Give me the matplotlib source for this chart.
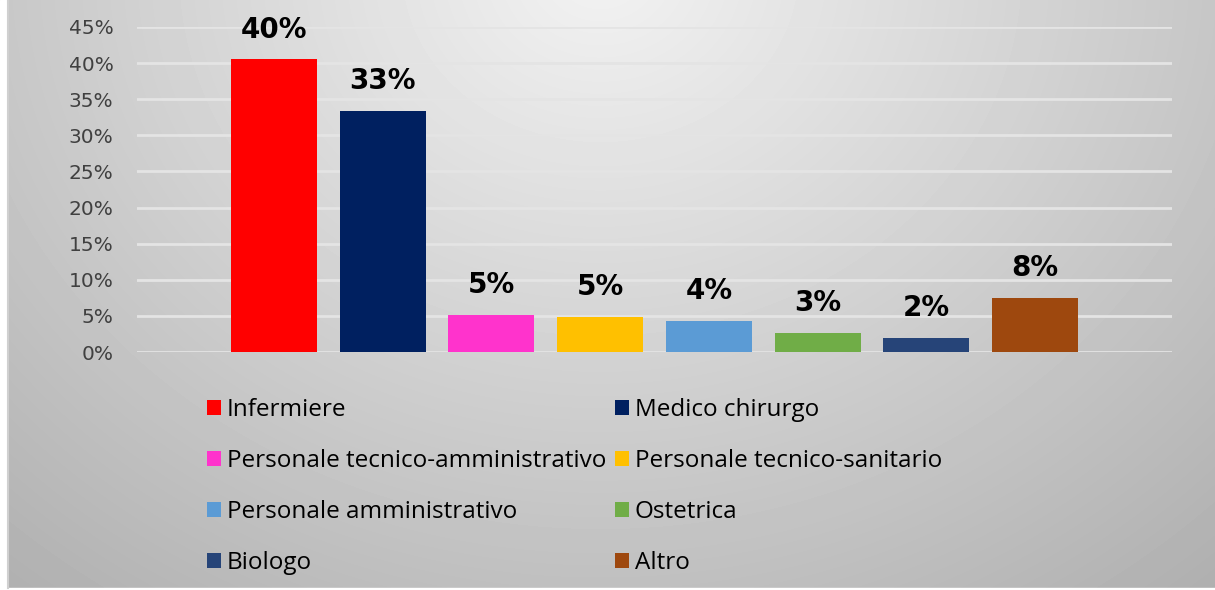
import numpy as np
import matplotlib
matplotlib.use('Agg')
import matplotlib.pyplot as plt
from matplotlib.patches import Patch, Rectangle

# Dati
categorie = ['Infermiere', 'Medico chirurgo', 'Personale tecnico-amministrativo',
             'Personale tecnico-sanitario', 'Personale amministrativo', 'Ostetrica',
             'Biologo', 'Altro']
valori = [0.405, 0.334, 0.051, 0.048, 0.043, 0.026, 0.019, 0.075]
etichette = ['40%', '33%', '5%', '5%', '4%', '3%', '2%', '8%']
colori = ['#ff0000', '#002060', '#ff33cc', '#ffc000', '#5b9bd5', '#70ad47', '#264478', '#9e480e']
yticks = [0, 0.05, 0.10, 0.15, 0.20, 0.25, 0.30, 0.35, 0.40, 0.45]
ytick_labels = ['0%', '5%', '10%', '15%', '20%', '25%', '30%', '35%', '40%', '45%']

W, H = 1215, 590
fig = plt.figure(figsize=(W / 100, H / 100), dpi=100)

# sfondo sfumato (radiale)
bg = fig.add_axes([0, 0, 1, 1], zorder=-2)
yy, xx = np.mgrid[0:H, 0:W]
d = np.sqrt(((xx - 600) / 750.0) ** 2 + ((yy + 30) / 650.0) ** 2)
val = np.clip(0.95 - 0.21 * d, 0, 1)
bg.imshow(val, cmap='gray', vmin=0, vmax=1, extent=[0, W, H, 0], aspect='auto')
bg.add_patch(Rectangle((0, 0), 7, H, color='white'))
bg.add_patch(Rectangle((0, H - 2), W, 2, color='white'))
bg.plot([8, 8], [0, H - 2], color='#d0d0d0', lw=1.5)
bg.set_xlim(0, W)
bg.set_ylim(H, 0)
bg.axis('off')

ax = fig.add_axes([137 / W, 1 - 352 / H, (1172 - 137) / W, (352 - 27) / H])
ax.set_facecolor('none')
x = np.arange(len(categorie))
ax.bar(x, valori, width=0.79, color=colori, zorder=3)
for xi, v, lab in zip(x, valori, etichette):
    ax.annotate(lab, (xi, v), xytext=(0, 16), textcoords='offset pixels',
                ha='center', va='bottom', fontsize=20, fontweight='bold', color='black')

ax.set_xlim(-1.26, 8.26)
ax.set_ylim(0, 0.45)
ax.set_yticks(yticks)
ax.set_yticklabels(ytick_labels, fontsize=14.5, color='#404040')
ax.set_xticks([])
ax.tick_params(axis='y', length=0, pad=17)
ax.grid(axis='y', color='#e4e4e4', linewidth=2, zorder=0)
for s in ax.spines.values():
    s.set_visible(False)

# legenda a due colonne (ordine per riga)
handles = [Patch(facecolor=c, label=n) for c, n in zip(colori, categorie)]
ordine = [0, 2, 4, 6, 1, 3, 5, 7]
fig.legend([handles[i] for i in ordine], [categorie[i] for i in ordine],
           ncol=2, loc='upper left', bbox_to_anchor=(195 / W, 1 - 386 / H),
           frameon=False, borderpad=0, handlelength=0.57, handleheight=0.57,
           handletextpad=0.25, columnspacing=0.35, labelspacing=1.11,
           prop={'family': ['Open Sans', 'DejaVu Sans'], 'size': 17.5})

fig.savefig('out.png', dpi=100)
